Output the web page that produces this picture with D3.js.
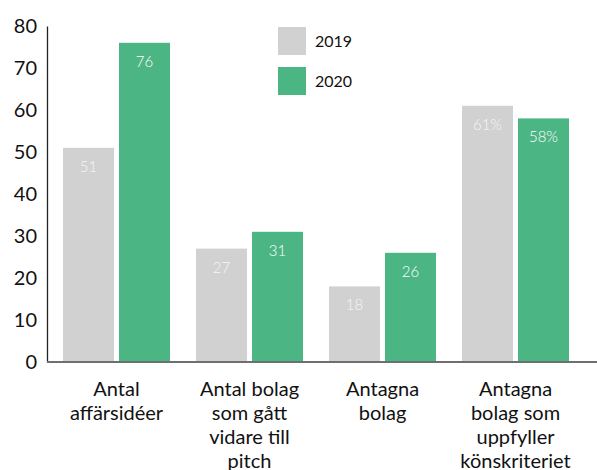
<!DOCTYPE html>
<html>
<head>
<meta charset="utf-8">
<script src="https://cdn.jsdelivr.net/npm/d3@7/dist/d3.min.js"></script>
<style>
  body { margin: 0; background: #fff; }
  svg text { font-family: Lato, "Open Sans", sans-serif; font-weight: 400; }
</style>
</head>
<body>
<div id="chart"></div>
<script>
var categories = ['Antal\naffärsidéer', 'Antal bolag\nsom gått\nvidare till\npitch', 'Antagna\nbolag', 'Antagna\nbolag som\nuppfyller\nkönskriteriet'];
var series = ['2019', '2020'];
var values2019 = [51, 27, 18, 61];
var values2020 = [76, 31, 26, 58];
var valueLabels2019 = ['51', '27', '18', '61%'];
var valueLabels2020 = ['76', '31', '26', '58%'];
var yTicks = [0, 10, 20, 30, 40, 50, 60, 70, 80];

var W = 597, H = 470,
    AXIS_X = 47, BASE_Y = 362, TOP_Y = 26,
    COLORS = { '2019': '#d0d1d0', '2020': '#4cb584' };

var svg = d3.select('#chart').append('svg')
    .attr('width', W).attr('height', H);

var y = d3.scaleLinear().domain([0, 80]).range([BASE_Y, TOP_Y]);

var x0 = d3.scaleBand().domain(categories).range([50, 582]).padding(0);
var x1 = d3.scaleBand().domain(series).range([13, 120]).paddingInner(5 / 56).paddingOuter(0);

var rows = categories.map(function (c, i) {
  return [
    { cat: c, key: '2019', v: values2019[i], label: valueLabels2019[i] },
    { cat: c, key: '2020', v: values2020[i], label: valueLabels2020[i] }
  ];
});

// y axis labels + line
var yAxis = svg.append('g').attr('transform', 'translate(' + AXIS_X + ',0)')
  .call(d3.axisLeft(y).tickValues(yTicks).tickSize(0).tickPadding(10));
yAxis.select('.domain').attr('stroke', '#222').attr('stroke-width', 1.3);
yAxis.selectAll('text').attr('font-size', 20).attr('fill', '#111')
  .style('font-family', 'Lato, "Open Sans", sans-serif').style('font-weight', 400);

// bars
var groups = svg.selectAll('g.group').data(rows).enter().append('g')
  .attr('class', 'group')
  .attr('transform', function (d, i) { return 'translate(' + x0(categories[i]) + ',0)'; });

groups.selectAll('rect').data(function (d) { return d; }).enter().append('rect')
  .attr('x', function (d) { return x1(d.key); })
  .attr('y', function (d) { return y(d.v); })
  .attr('width', x1.bandwidth())
  .attr('height', function (d) { return BASE_Y - y(d.v); })
  .attr('fill', function (d) { return COLORS[d.key]; });

groups.selectAll('text.val').data(function (d) { return d; }).enter().append('text')
  .attr('class', 'val')
  .attr('x', function (d) { return x1(d.key) + x1.bandwidth() / 2; })
  .attr('y', function (d) { return y(d.v) + 24; })
  .attr('text-anchor', 'middle')
  .attr('font-size', 15)
  .style('font-weight', 300)
  .attr('fill', function (d) { return d.key === '2019' ? '#f7f7f7' : '#ffffff'; })
  .text(function (d) { return d.label; });

// x axis line
svg.append('line')
  .attr('x1', AXIS_X).attr('x2', W)
  .attr('y1', BASE_Y).attr('y2', BASE_Y)
  .attr('stroke', '#6f6f6f').attr('stroke-width', 2);

// category labels
var catLabels = svg.selectAll('text.cat').data(categories).enter().append('text')
  .attr('class', 'cat')
  .attr('text-anchor', 'middle')
  .attr('font-size', 20)
  .attr('fill', '#111')
  .attr('transform', function (d) { return 'translate(' + (x0(d) + x0.bandwidth() / 2) + ',0)'; });

catLabels.each(function (d) {
  var t = d3.select(this);
  d.split('\n').forEach(function (line, i) {
    t.append('tspan').attr('x', 0).attr('y', 396 + i * 24).text(line);
  });
});

// legend
var legend = svg.selectAll('g.legend').data(series).enter().append('g')
  .attr('class', 'legend')
  .attr('transform', function (d, i) { return 'translate(278,' + (27 + i * 40) + ')'; });

legend.append('rect').attr('width', 28).attr('height', 28)
  .attr('fill', function (d) { return COLORS[d]; });
legend.append('text').attr('x', 37).attr('y', 20)
  .attr('font-size', 16).attr('fill', '#111')
  .text(function (d) { return d; });
</script>
</body>
</html>
